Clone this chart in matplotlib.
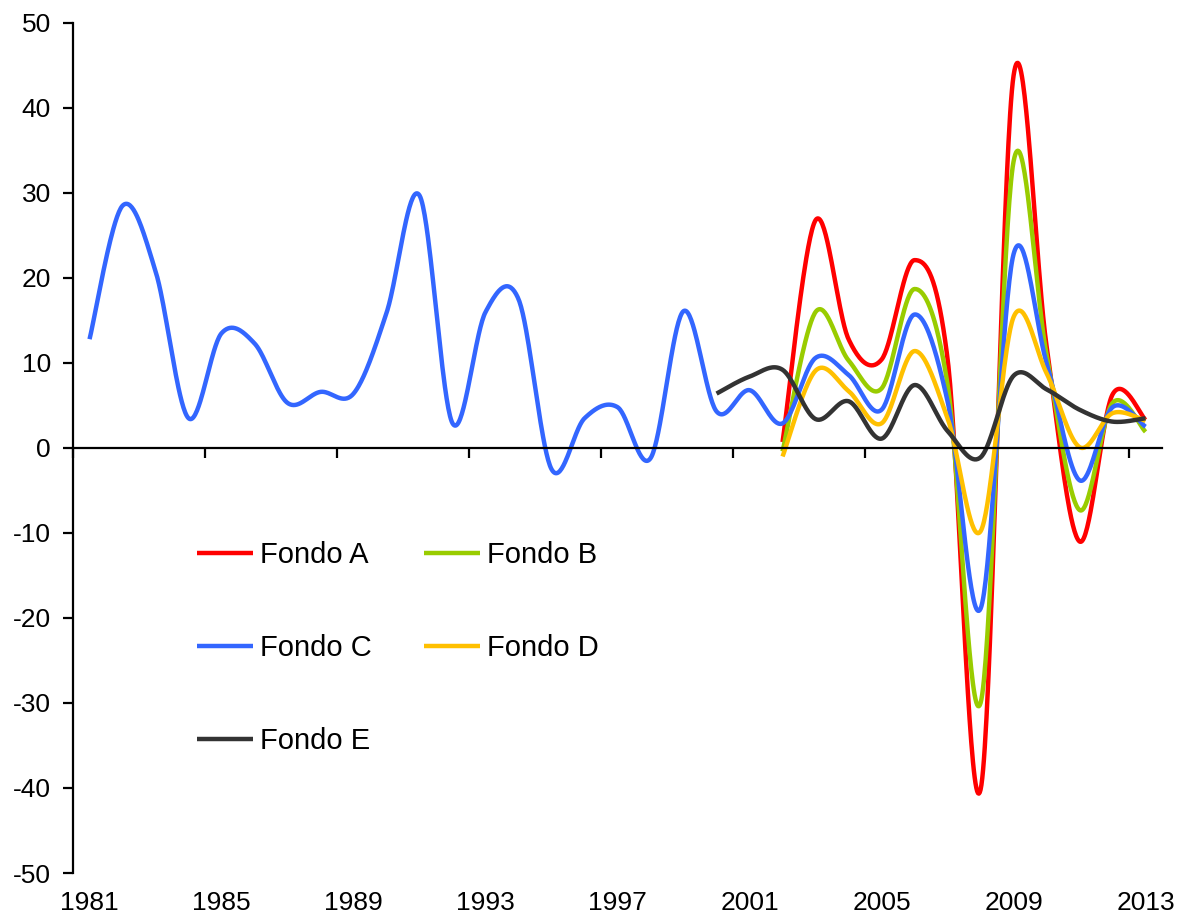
import numpy as np
import matplotlib
matplotlib.use('Agg')
import matplotlib.pyplot as plt

plt.rcParams['font.family'] = ['Liberation Sans', 'DejaVu Sans']
plt.rcParams['axes.unicode_minus'] = False

# Data: annual real returns (%)
years = list(range(1981, 2014))
tick_labels = ['1981', '1985', '1989', '1993', '1997', '2001', '2005', '2009', '2013']

years_c = list(range(1981, 2014))
fondo_c = [12.8, 28.5, 20.8, 3.5, 13.5, 12.3, 5.3, 6.6, 6.4, 15.9,
           29.7, 2.9, 16.0, 17.5, -2.5, 3.5, 4.8, -1.2, 16.1, 4.3,
           6.8, 2.9, 10.6, 8.6, 4.5, 15.7, 5.5, -18.9, 22.8, 10.0,
           -3.8, 4.8, 2.5]

years_e = list(range(2000, 2014))
fondo_e = [6.4, 8.4, 9.2, 3.4, 5.5, 1.1, 7.4, 2.0, -1.1, 8.5, 6.9, 4.5, 3.1, 3.5]

years_abd = list(range(2002, 2014))
fondo_a = [0.7, 26.8, 12.8, 10.4, 22.1, 10.5, -40.2, 43.8, 12.0, -11.0, 6.3, 3.3]
fondo_b = [-0.4, 16.0, 10.3, 7.0, 18.7, 7.5, -30.0, 33.7, 11.0, -7.3, 5.3, 1.9]
fondo_d = [-1.0, 9.1, 6.7, 2.9, 11.4, 3.5, -9.8, 15.4, 8.8, 0.1, 4.1, 3.2]


def smooth(x, y, n=40):
    # Excel-style smoothed line (Bezier through points, Catmull-Rom tangents)
    x = np.asarray(x, float)
    y = np.asarray(y, float)
    px = np.concatenate([[x[0]], x, [x[-1]]])
    py = np.concatenate([[y[0]], y, [y[-1]]])
    t = np.linspace(0, 1, n)[:, None]
    xs, ys = [], []
    for i in range(len(x) - 1):
        p0 = np.array([px[i + 1], py[i + 1]])
        p3 = np.array([px[i + 2], py[i + 2]])
        c1 = p0 + (np.array([px[i + 2], py[i + 2]]) - np.array([px[i], py[i]])) / 6
        c2 = p3 - (np.array([px[i + 3], py[i + 3]]) - np.array([px[i + 1], py[i + 1]])) / 6
        b = ((1 - t) ** 3) * p0 + 3 * ((1 - t) ** 2) * t * c1 + 3 * (1 - t) * t ** 2 * c2 + t ** 3 * p3
        xs.append(b[:, 0])
        ys.append(b[:, 1])
    return np.concatenate(xs), np.concatenate(ys)


def pos(yrs):
    # category centres
    return [yr - years[0] + 0.5 for yr in yrs]


fig = plt.figure(figsize=(11.8, 9.15), dpi=100)
ax = fig.add_axes([0.0619, 0.0459, 0.9229, 0.929])

series = [
    ('Fondo A', years_abd, fondo_a, '#FF0000'),
    ('Fondo B', years_abd, fondo_b, '#99CC00'),
    ('Fondo C', years_c, fondo_c, '#3366FF'),
    ('Fondo D', years_abd, fondo_d, '#FFC000'),
    ('Fondo E', years_e, fondo_e, '#333333'),
]
handles = {}
for name, yrs, vals, col in series:
    sx, sy = smooth(pos(yrs), vals)
    h, = ax.plot(sx, sy, color=col, lw=3.2, solid_capstyle='butt', label=name)
    handles[name] = h

ax.set_xlim(0, len(years))
ax.set_ylim(-50, 50)
ax.set_yticks(range(-50, 51, 10))

ax.spines['top'].set_visible(False)
ax.spines['right'].set_visible(False)
ax.spines['bottom'].set_position(('data', 0))
ax.spines['left'].set_linewidth(1.6)
ax.spines['bottom'].set_linewidth(1.6)

ax.set_xticks(range(0, len(years), 4))
ax.tick_params(axis='x', direction='out', length=7, width=1.6, labelbottom=False)
ax.tick_params(axis='y', direction='out', length=7, width=1.6, labelsize=19, pad=9)

sec = ax.secondary_xaxis('bottom')
sec.set_xticks(pos([int(s) for s in tick_labels]), tick_labels)
sec.tick_params(length=0, labelsize=19, pad=13)
sec.spines['bottom'].set_visible(False)

order = ['Fondo A', 'Fondo C', 'Fondo E', 'Fondo B', 'Fondo D']
leg = fig.legend([handles[k] for k in order], order, ncol=2, loc='upper left',
                 bbox_to_anchor=(0.167, 0.4082), frameon=False, fontsize=21,
                 handlelength=1.92, handletextpad=0.24, columnspacing=1.8,
                 labelspacing=2.22, borderpad=0, borderaxespad=0)

fig.savefig('out.png', dpi=100)
